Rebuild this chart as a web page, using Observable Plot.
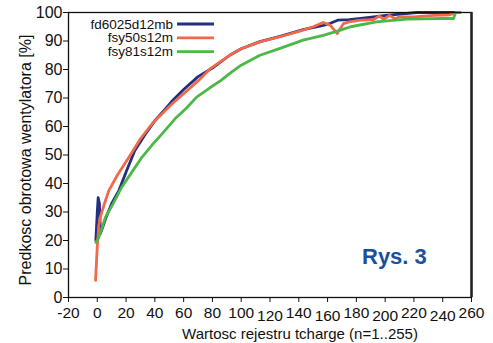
<!DOCTYPE html>
<html><head><meta charset="utf-8">
<script src="https://cdn.jsdelivr.net/npm/d3@7"></script>
<script src="https://cdn.jsdelivr.net/npm/@observablehq/plot@0.6"></script>
<style>
body{margin:0;background:#fff;font-family:"Liberation Sans",Arial,sans-serif;}
#wrap{position:relative;width:493px;height:343px;}
#legend{position:absolute;left:0;top:0;}
#rys{position:absolute;left:362px;top:244px;font:bold 22px "Liberation Sans",Arial,sans-serif;color:#1a4f9e;}
</style></head>
<body><div id="wrap"></div>
<script>
const seriesNames = ["fd6025d12mb","fsy50s12m","fsy81s12m"];
const seriesColors = ["#22307f","#f2684a","#4db847"];
const blueX = [-1,0,0.6,1.5,2.2,4,6,10,15,20,26,33,40,47,53,60,70,80,92,100,113,127,143,157,162,167,175,183,201,222,252];
const blueY = [20,30,35,33,22.5,25,28,33,37.5,44,51.5,57,62,66,69.5,73,77.5,80.5,85,87.3,89.8,91.6,94,95.5,96.2,97.3,97.5,97.9,99,100,100];
const redX = [-1.2,0,1,2,5,8,14,22,30,39,45,52,60,70,79,93,100,113,127,143,150,157,162,166.7,171,175,183,192,196,199,203,207,210,220,234,245,250];
const redY = [6,18,25,28,33,37.5,43,49.2,55.7,61.5,64.5,68,71.5,76,80.5,85.3,87.3,89.7,91.5,93.8,95,96.5,95.5,92.6,96.1,96.7,97.3,97.5,98.8,97.6,99,97.8,98.5,98.5,99,99.2,100];
const greenX = [-1,1,3,5.7,10,17,24,31,38,45,54,62,69,78,86,93,100,113,127,143,157,169,176,194,215,240,247.5,249,252];
const greenY = [19.4,21,24,28.2,32,38.7,44,49.2,53.5,57.4,62.7,66.5,70.3,73.5,76.2,79,81.5,85,87.4,90.3,92,93.8,95,96.7,97.7,97.9,97.9,100,100];
const xTicks = d3.range(-20,261,20);
const yTicks = d3.range(0,101,10);
const xTitle = "Wartosc rejestru tcharge (n=1..255)";
const yTitle = "Predkosc obrotowa wentylatora [%]";

const allX=[blueX,redX,greenX], allY=[blueY,redY,greenY];
const data = [];
allX.forEach((xs,i)=>xs.forEach((x,j)=>data.push({s:seriesNames[i],x,y:allY[i][j]})));

const lowTicks = xTicks.filter(t=>t>=120 && (t/20)%2===0);
const normTicks = xTicks.filter(t=>!lowTicks.includes(t));

const chart = Plot.plot({
  width:493,height:343,
  marginLeft:68,marginRight:22,marginTop:12,marginBottom:46,
  x:{domain:[-20,260]},
  y:{domain:[0,100]},
  color:{domain:seriesNames,range:seriesColors},
  style:{fontFamily:"Liberation Sans, Arial, sans-serif",fontSize:"15px",color:"#111"},
  marks:[
    Plot.line(data,{x:"x",y:"y",z:"s",stroke:"s",strokeWidth:2.8,strokeLinejoin:"round"}),
    Plot.frame({stroke:"#111",strokeWidth:1.3}),
    Plot.ruleX([260],{stroke:"#222",strokeWidth:2.5}),
    Plot.axisY({ticks:yTicks,tickSize:5,tickPadding:1,fontSize:16,label:null,tickFormat:d=>d}),
    Plot.axisX({ticks:normTicks,tickSize:5,tickPadding:4,fontSize:15.5,label:null,tickFormat:d=>d}),
    Plot.axisX({ticks:lowTicks,tickSize:5,tickPadding:7,fontSize:15.5,label:null,tickFormat:d=>d}),
    Plot.text([xTitle],{frameAnchor:"bottom",textAnchor:"middle",dx:30,dy:31,fontSize:15,fill:"#111",lineAnchor:"top"}),
    Plot.text([yTitle],{frameAnchor:"left",textAnchor:"middle",dx:-43,dy:5,rotate:-90,fontSize:16,fill:"#111"})
  ]
});
const wrap=document.getElementById("wrap");
wrap.appendChild(chart);

// legend overlay
const ns="http://www.w3.org/2000/svg";
const lg=document.createElementNS(ns,"svg");
lg.setAttribute("id","legend");lg.setAttribute("width","493");lg.setAttribute("height","80");
seriesNames.forEach((n,i)=>{
  const yy=24+i*13.8;
  const t=document.createElementNS(ns,"text");
  t.setAttribute("x","173");t.setAttribute("y",yy);t.setAttribute("text-anchor","end");
  t.setAttribute("dominant-baseline","central");t.setAttribute("font-size","13.5");
  t.setAttribute("font-family","Liberation Sans, Arial, sans-serif");t.setAttribute("fill","#111");
  t.textContent=n;lg.appendChild(t);
  const l=document.createElementNS(ns,"line");
  l.setAttribute("x1","177");l.setAttribute("x2","214");l.setAttribute("y1",yy);l.setAttribute("y2",yy);
  l.setAttribute("stroke",seriesColors[i]);l.setAttribute("stroke-width","2.8");lg.appendChild(l);
});
wrap.appendChild(lg);
const r=document.createElement("div");r.id="rys";r.textContent="Rys. 3";wrap.appendChild(r);
</script></body></html>
